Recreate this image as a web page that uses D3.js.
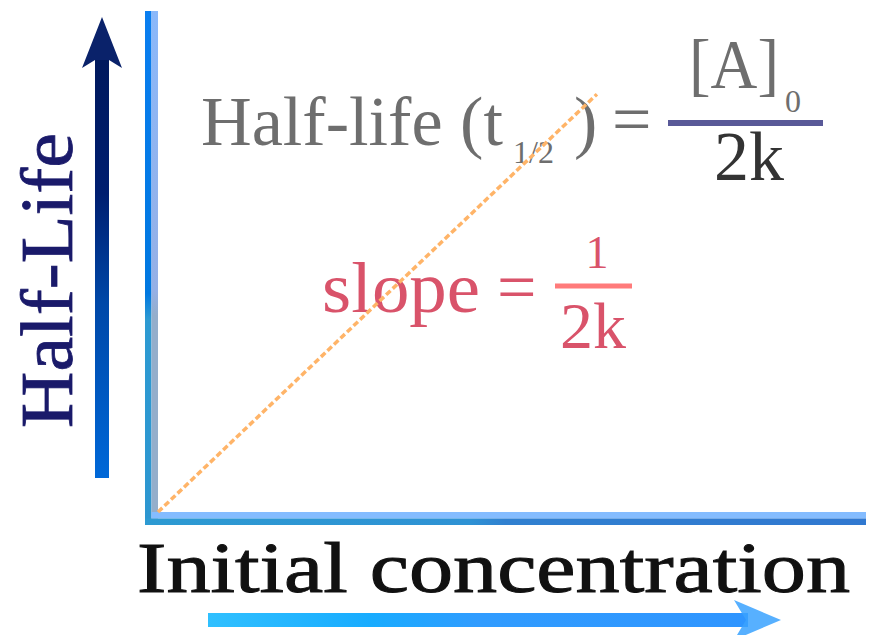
<!DOCTYPE html>
<html>
<head>
<meta charset="utf-8">
<script src="https://cdn.jsdelivr.net/npm/d3@7"></script>
<style>
  html, body { margin: 0; padding: 0; background: #fff; }
  svg { display: block; }
</style>
</head>
<body>
<svg id="chart" width="870" height="635"></svg>
<script>
// Half-life of a zero-order reaction grows linearly with initial concentration
const concentration = [0, 0.62];
const halfLife = [0, 0.834];
const xLabel = "Initial concentration";
const yLabel = "Half-Life";

const svg = d3.select("#chart");
const serif = "'Liberation Serif', 'DejaVu Serif', serif";

const x = d3.scaleLinear().domain([0, 1]).range([158, 866]);
const y = d3.scaleLinear().domain([0, 1]).range([512, 11]);
const axisW = 13;

const defs = svg.append("defs");
function lin(id, x1, y1, x2, y2, stops) {
  const g = defs.append("linearGradient").attr("id", id)
    .attr("x1", x1).attr("y1", y1).attr("x2", x2).attr("y2", y2);
  stops.forEach(([o, c]) => g.append("stop").attr("offset", o).attr("stop-color", c));
}
lin("yAxisDark", 0, 0, 0, 1, [[0, "#0a7ef0"], [0.55, "#0078e0"], [0.6, "#2d9ad2"], [1, "#2d96d0"]]);
lin("yAxisLight", 0, 0, 0, 1, [[0, "#8ab8fa"], [0.55, "#95b0e6"], [0.6, "#94aecb"], [1, "#94aecb"]]);
lin("xAxisDark", 0, 0, 1, 0, [[0, "#2d9ad2"], [0.45, "#2e92d4"], [0.5, "#3080d0"], [1, "#3078d0"]]);
lin("leftArrow", 0, 0, 0, 1, [[0, "#00185a"], [0.35, "#001e70"], [0.6, "#0048a8"], [1, "#0068d8"]]);
lin("bottomArrow", 0, 0, 1, 0, [[0, "#30c0ff"], [0.3, "#18acff"], [0.5, "#309cff"], [1, "#2f95ff"]]);

// Axes: thick two-tone bars along the scale ranges
const x0 = x.range()[0], y0 = y.range()[0];
svg.append("rect").attr("x", x0 - axisW).attr("y", y.range()[1])
  .attr("width", axisW / 2).attr("height", y0 - y.range()[1] + axisW)
  .attr("fill", "url(#yAxisDark)");
svg.append("rect").attr("x", x0 - axisW / 2).attr("y", y.range()[1])
  .attr("width", axisW / 2).attr("height", y0 - y.range()[1] + axisW / 2)
  .attr("fill", "url(#yAxisLight)");
svg.append("rect").attr("x", x0 - axisW / 2).attr("y", y0)
  .attr("width", x.range()[1] - x0 + axisW / 2).attr("height", axisW / 2)
  .attr("fill", "#84bcff");
svg.append("rect").attr("x", x0 - axisW).attr("y", y0 + axisW / 2)
  .attr("width", x.range()[1] - x0 + axisW).attr("height", axisW / 2)
  .attr("fill", "url(#xAxisDark)");

// Axis direction arrows
svg.append("rect").attr("x", 95).attr("y", 40).attr("width", 14).attr("height", 438)
  .attr("fill", "url(#leftArrow)");
svg.append("path").attr("d", "M102,17 L122,68 L109,60 L95,60 L82,68 Z").attr("fill", "#0a226a");

svg.append("rect").attr("x", 208).attr("y", 613).attr("width", 540).attr("height", 14)
  .attr("fill", "url(#bottomArrow)");
svg.append("path").attr("d", "M781,620 L734,600 L746,620 L734,640 Z").attr("fill", "#3aa2ff").attr("opacity", 0.85);

// Axis titles
svg.append("text").attr("x", 137).attr("y", 592)
  .attr("font-family", serif).attr("font-size", 72).attr("fill", "#111")
  .attr("stroke", "#111").attr("stroke-width", 1)
  .attr("textLength", 713).attr("lengthAdjust", "spacingAndGlyphs")
  .text(xLabel);

svg.append("text").attr("transform", "translate(72,428) rotate(-90)")
  .attr("font-family", serif).attr("font-size", 74).attr("fill", "#1a1a6a")
  .attr("stroke", "#1a1a6a").attr("stroke-width", 0.8)
  .attr("textLength", 295).attr("lengthAdjust", "spacingAndGlyphs")
  .text(yLabel);

// Half-life formula
const gray = "#6e6e6e";
const f = svg.append("g").attr("font-family", serif).attr("fill", gray);
f.append("text").attr("x", 201).attr("y", 145).attr("font-size", 70)
  .attr("textLength", 302).attr("lengthAdjust", "spacingAndGlyphs").text("Half-life (t");
f.append("text").attr("x", 513).attr("y", 163).attr("font-size", 32).text("1/2");
f.append("text").attr("x", 574).attr("y", 145).attr("font-size", 70).text(")");
f.append("text").attr("x", 612).attr("y", 143).attr("font-size", 70).text("=");
f.append("text").attr("x", 689).attr("y", 88).attr("font-size", 70)
  .attr("textLength", 90).attr("lengthAdjust", "spacingAndGlyphs").text("[A]");
f.append("text").attr("x", 785).attr("y", 112).attr("font-size", 32).text("0");
f.append("line").attr("x1", 668).attr("x2", 823).attr("y1", 123).attr("y2", 123)
  .attr("stroke", "#595998").attr("stroke-width", 6);
f.append("text").attr("x", 749).attr("y", 180).attr("font-size", 70)
  .attr("text-anchor", "middle").attr("fill", "#333").text("2k");

// Slope annotation
const red = "#d9536a";
const s = svg.append("g").attr("font-family", serif).attr("fill", red);
s.append("text").attr("x", 322).attr("y", 312).attr("font-size", 72)
  .attr("textLength", 158).attr("lengthAdjust", "spacingAndGlyphs").text("slope");
s.append("text").attr("x", 497).attr("y", 311).attr("font-size", 70).text("=");
s.append("line").attr("x1", 555).attr("x2", 632).attr("y1", 286).attr("y2", 286)
  .attr("stroke", "#ff7b7b").attr("stroke-width", 5);
s.append("text").attr("x", 597).attr("y", 268).attr("font-size", 46)
  .attr("text-anchor", "middle").text("1");
s.append("text").attr("x", 593).attr("y", 348).attr("font-size", 66)
  .attr("text-anchor", "middle").text("2k");

// Half-life vs. initial concentration line
const pts = concentration.map((c, i) => [c, halfLife[i]]);
svg.append("path").datum(pts)
  .attr("d", d3.line().x(d => x(d[0])).y(d => y(d[1])))
  .attr("fill", "none").attr("stroke", "#ffb468").attr("stroke-width", 3.5)
  .attr("stroke-dasharray", "6,3");
</script>
</body>
</html>
